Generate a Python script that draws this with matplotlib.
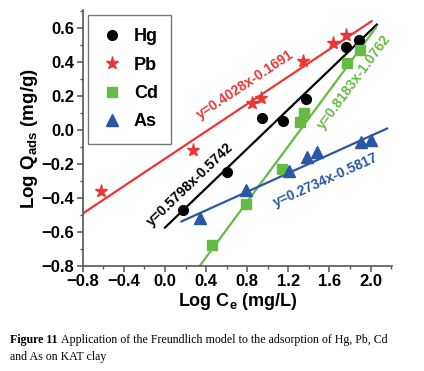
import numpy as np
import matplotlib
matplotlib.use('Agg')
from matplotlib import pyplot as plt
from matplotlib.ticker import MultipleLocator

plt.rcParams['font.family'] = ['Liberation Sans', 'DejaVu Sans']
plt.rcParams['font.weight'] = 'bold'
plt.rcParams['mathtext.fontset'] = 'custom'
plt.rcParams['mathtext.bf'] = 'Liberation Sans:bold'
plt.rcParams['mathtext.rm'] = 'Liberation Sans:bold'

# data
hg_x = [0.18, 0.60, 0.94, 1.15, 1.37, 1.76, 1.89]
hg_y = [-0.47, -0.245, 0.07, 0.055, 0.18, 0.49, 0.53]
pb_x = [-0.62, 0.27, 0.85, 0.93, 1.34, 1.63, 1.76]
pb_y = [-0.36, -0.12, 0.16, 0.19, 0.405, 0.51, 0.56]
cd_x = [0.455, 0.79, 1.14, 1.31, 1.35, 1.77, 1.90]
cd_y = [-0.675, -0.437, -0.23, 0.05, 0.10, 0.395, 0.47]
as_x = [0.34, 0.79, 1.21, 1.38, 1.48, 1.91, 2.00]
as_y = [-0.52, -0.353, -0.24, -0.157, -0.128, -0.07, -0.06]

# fitted lines: slope, intercept, x range
fits = {
    'Hg': (0.5798, -0.5742, 0.0, 2.06),
    'Pb': (0.4028, -0.1691, -0.8, 2.01),
    'Cd': (0.8183, -1.0762, 0.335, 2.05),
    'As': (0.2734, -0.5817, 0.16, 2.16),
}
eq_labels = {
    'Hg': 'y=0.5798x-0.5742',
    'Pb': 'y=0.4028x-0.1691',
    'Cd': 'y=0.8183x-1.0762',
    'As': 'y=0.2734x-0.5817',
}
eq_pos = {'Hg': (0.24, -0.32), 'Pb': (0.78, 0.265), 'Cd': (1.84, 0.28), 'As': (1.56, -0.295)}

red = '#ee3535'
green = '#66bb44'
blue = '#2a56a8'
colors = {'Hg': 'black', 'Pb': red, 'Cd': green, 'As': blue}

fig = plt.figure(figsize=(4.24, 3.71), dpi=100)
ax = fig.add_axes([0.195, 0.283, 0.73, 0.69])

for k, (m, b, x0, x1) in fits.items():
    xs = np.array([x0, x1])
    ax.plot(xs, m * xs + b, color=colors[k], lw=1.6, zorder=2)

ax.plot(hg_x, hg_y, 'o', color='black', ms=7, label='Hg', zorder=3)
ax.plot(pb_x, pb_y, '*', color=red, ms=9.5, label='Pb', zorder=3)
ax.plot(cd_x, cd_y, 's', color=green, ms=6.5, label='Cd', zorder=3)
ax.plot(as_x, as_y, '^', color=blue, ms=8, label='As', zorder=3)

ax.set_xlim(-0.8, 2.21)
ax.set_ylim(-0.8, 0.706)

# rotate equation text to follow the lines on screen
for k, (m, b, x0, x1) in fits.items():
    p1 = ax.transData.transform((0, b))
    p2 = ax.transData.transform((1, m + b))
    ang = np.degrees(np.arctan2(p2[1] - p1[1], p2[0] - p1[0]))
    ax.text(eq_pos[k][0], eq_pos[k][1], eq_labels[k], color=colors[k], fontsize=10,
            fontweight='bold', rotation=ang, ha='center', va='center', rotation_mode='anchor')

ax.spines['top'].set_visible(False)
ax.spines['right'].set_visible(False)
for s in ['left', 'bottom']:
    ax.spines[s].set_color('#555555')
    ax.spines[s].set_linewidth(1.2)

ax.xaxis.set_major_locator(MultipleLocator(0.4))
ax.xaxis.set_minor_locator(MultipleLocator(0.2))
ax.yaxis.set_major_locator(MultipleLocator(0.2))
ax.yaxis.set_minor_locator(MultipleLocator(0.1))
ax.tick_params(which='major', direction='out', length=4, width=1.1, color='#555555', labelsize=12, pad=2)
ax.tick_params(which='minor', direction='out', length=2.5, width=1, color='#555555')
for lab in ax.get_xticklabels() + ax.get_yticklabels():
    lab.set_fontweight('bold')

ax.set_xlabel('Log C$_\\mathbf{e}$ (mg/L)', fontsize=13, fontweight='bold', labelpad=1)
ax.set_ylabel('Log Q$_\\mathbf{ads}$ (mg/g)', fontsize=13.5, fontweight='bold', labelpad=1)

leg = ax.legend(loc='upper left', bbox_to_anchor=(0.005, 0.995), frameon=True,
                fancybox=False, edgecolor='#555555', handlelength=1.2, handletextpad=0.6,
                labelspacing=0.62, borderpad=0.75, borderaxespad=0.2,
                prop={'weight': 'bold', 'size': 13})
leg.get_frame().set_linewidth(1.0)

cap_size = 8.6
t1 = fig.text(0.024, 0.076, 'Figure 11', fontsize=cap_size, fontweight='bold', family=['Liberation Serif'])
fig.canvas.draw()
bb = t1.get_window_extent().transformed(fig.transFigure.inverted())
fig.text(bb.x1 + 0.009, 0.076, 'Application of the Freundlich model to the adsorption of Hg, Pb, Cd',
         fontsize=cap_size, fontweight='normal', family=['Liberation Serif'])
fig.text(0.024, 0.030, 'and As on KAT clay', fontsize=cap_size, fontweight='normal', family=['Liberation Serif'])

fig.savefig('out.png', dpi=100)
